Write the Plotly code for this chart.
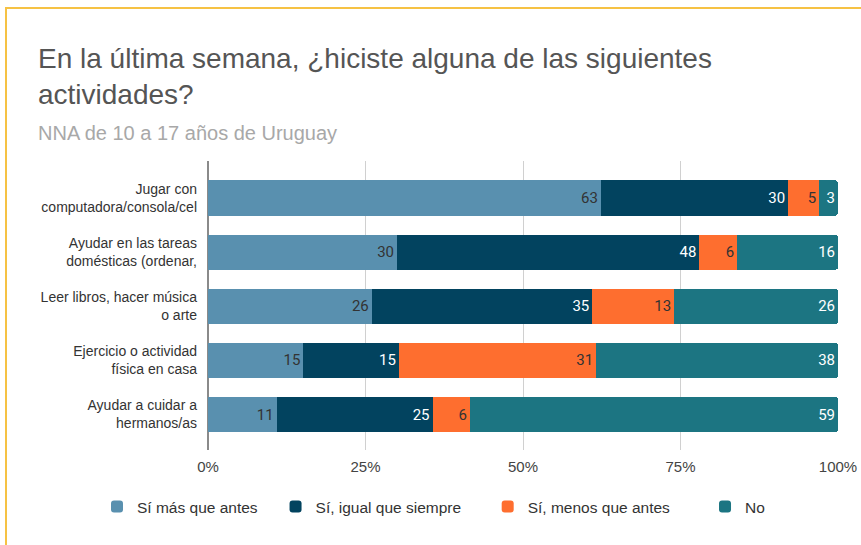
import plotly.graph_objects as go

# Data
actividades = [
    "Jugar con<br>computadora/consola/cel",
    "Ayudar en las tareas<br>domésticas (ordenar,",
    "Leer libros, hacer música<br>o arte",
    "Ejercicio o actividad<br>física en casa",
    "Ayudar a cuidar a<br>hermanos/as",
]
mas_que_antes = [63, 30, 26, 15, 11]
igual_que_siempre = [30, 48, 35, 15, 25]
menos_que_antes = [5, 6, 13, 31, 6]
no = [3, 16, 26, 38, 59]
x_ticks = [0, 25, 50, 75, 100]
x_labels = ["0%", "25%", "50%", "75%", "100%"]

W, H = 861, 545
L, R, T, B = 208, 23, 161, 95
pw, ph = W - L - R, H - T - B


def px_x(v):
    return (v - L) / pw


def px_y(v):
    return (H - B - v) / ph


# legend names padded with non-breaking spaces to widen entry spacing
nb = "\u00a0"
series = [
    ("Sí más que antes" + nb * 3, mas_que_antes, "#5990AF", "#333333"),
    ("Sí, igual que siempre" + nb * 5, igual_que_siempre, "#02435F", "#ffffff"),
    ("Sí, menos que antes" + nb * 7, menos_que_antes, "#FE6E2F", "#333333"),
    ("No", no, "#1C7582", "#ffffff"),
]

fig = go.Figure()
for name, vals, color, tcolor in series:
    fig.add_trace(go.Bar(
        y=actividades, x=vals, name=name, orientation="h",
        marker=dict(color=color, line=dict(width=0)),
        text=[str(v) for v in vals], textposition="inside",
        insidetextanchor="end", textangle=0,
        textfont=dict(family="Roboto", size=15, color=tcolor),
        width=0.65,
    ))

fig.update_layout(
    width=W, height=H,
    barmode="stack", barnorm="percent", barcornerradius=3,
    margin=dict(l=L, r=R, t=T, b=B),
    paper_bgcolor="white", plot_bgcolor="white",
    font=dict(family="Liberation Sans", color="#333333"),
    uniformtext=dict(minsize=10, mode="show"),
    xaxis=dict(
        range=[0, 100], tickvals=x_ticks, ticktext=x_labels,
        showgrid=True, gridcolor="#d0d0d0", gridwidth=1,
        zeroline=True, zerolinecolor="#8a8a8a", zerolinewidth=2,
        tickfont=dict(size=15, color="#444444"), ticks="",
        ticklabelstandoff=6, showline=False, fixedrange=True,
        automargin=False,
    ),
    yaxis=dict(
        range=[4.656, -0.684], showgrid=False, zeroline=False,
        tickfont=dict(size=14, color="#333333"), ticks="",
        ticklabelstandoff=10, automargin=False,
    ),
    legend=dict(
        orientation="h", x=px_x(97), y=px_y(507), xanchor="left", yanchor="middle",
        font=dict(size=15.5, color="#333333"), itemwidth=30, traceorder="normal",
        bgcolor="rgba(0,0,0,0)",
    ),
    shapes=[
        dict(type="line", xref="paper", yref="paper",
             x0=px_x(6), x1=px_x(6), y0=px_y(8), y1=px_y(H + 5),
             line=dict(color="#F6C244", width=2)),
        dict(type="line", xref="paper", yref="paper",
             x0=px_x(5), x1=px_x(W + 5), y0=px_y(8), y1=px_y(8),
             line=dict(color="#F6C244", width=2)),
    ],
    annotations=[
        dict(text="En la última semana, ¿hiciste alguna de las siguientes<br>actividades?",
             xref="paper", yref="paper", x=px_x(36), y=px_y(41),
             xanchor="left", yanchor="top", align="left", showarrow=False,
             font=dict(size=28, color="#555555", family="Liberation Sans")),
        dict(text="NNA de 10 a 17 años de Uruguay",
             xref="paper", yref="paper", x=px_x(36), y=px_y(133),
             xanchor="left", yanchor="middle", align="left", showarrow=False,
             font=dict(size=20, color="#A8A8A8", family="Liberation Sans")),
    ],
)

fig.write_html("out.html", config={"displayModeBar": False},
               post_script="document.body.style.margin='0';")
